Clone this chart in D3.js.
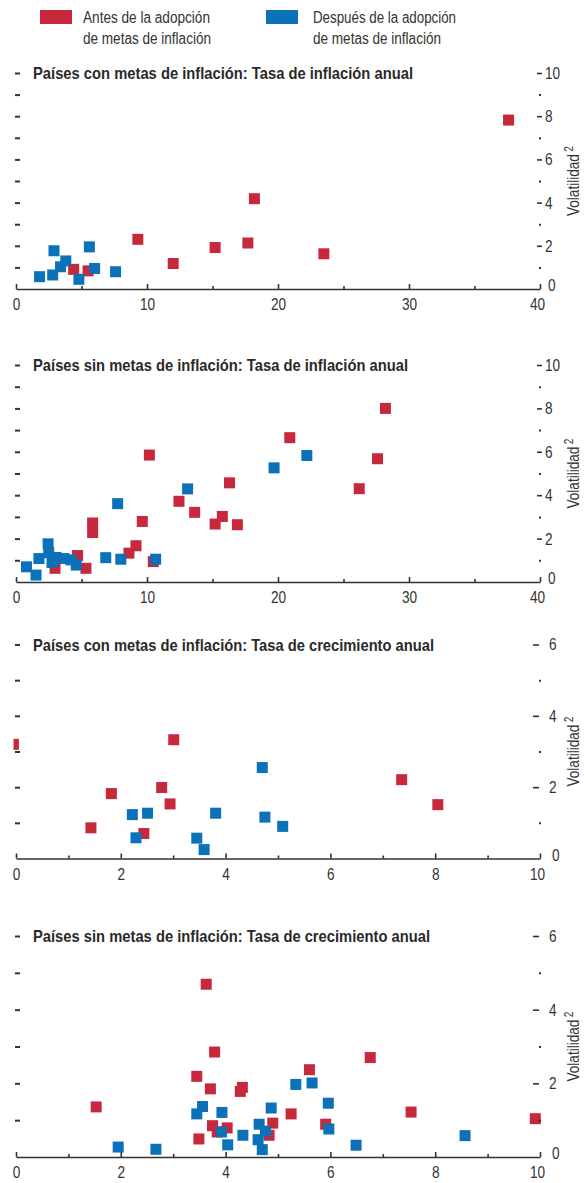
<!DOCTYPE html>
<html><head><meta charset="utf-8">
<script src="https://cdn.jsdelivr.net/npm/d3@7"></script>
<style>body{margin:0;background:#fff}svg{display:block}</style>
</head><body>
<script>
// ---------- data ----------
const legendLines = [["Antes de la adopción","de metas de inflación"],["Después de la adopción","de metas de inflación"]];
const seriesColors = ["#C8283B","#0B72BA"];
const panelTitles = [
  "Países con metas de inflación: Tasa de inflación anual",
  "Países sin metas de inflación: Tasa de inflación anual",
  "Países con metas de inflación: Tasa de crecimiento anual",
  "Países sin metas de inflación: Tasa de crecimiento anual"
];
const yAxisLabel = "Volatilidad";
const yAxisSup = "2";

// Panel 1: con metas, inflación
const p1RedX  = [4.4, 5.5, 9.3, 12.0, 15.2, 17.7, 18.2, 23.5, 37.6];
const p1RedY  = [0.91, 0.84, 2.3, 1.18, 1.92, 2.13, 4.18, 1.63, 7.82];
const p1BlueX = [1.8, 2.9, 2.8, 3.4, 3.8, 4.8, 5.6, 6.0, 7.6];
const p1BlueY = [0.57, 1.77, 0.65, 1.03, 1.3, 0.45, 1.95, 0.95, 0.8];

// Panel 2: sin metas, inflación
const p2RedX  = [2.98, 4.7, 5.34, 5.85, 5.85, 8.62, 9.16, 9.64, 10.18, 10.48, 12.44, 13.64, 15.2, 15.75, 16.3, 16.9, 20.9, 26.2, 27.6, 28.2];
const p2RedY  = [0.63, 1.22, 0.63, 2.72, 2.28, 1.33, 1.67, 2.79, 5.85, 0.94, 3.72, 3.21, 2.67, 3.02, 4.57, 2.64, 6.65, 4.3, 5.68, 8.0];
const p2BlueX = [0.8, 1.53, 1.75, 2.45, 2.5, 2.75, 3.05, 3.65, 4.2, 4.6, 6.85, 8.0, 7.76, 10.66, 13.1, 19.7, 22.2];
const p2BlueY = [0.7, 0.32, 1.08, 1.76, 1.35, 0.9, 1.13, 1.08, 1.02, 0.78, 1.12, 1.05, 3.61, 1.05, 4.29, 5.26, 5.83];

// Panel 3: con metas, crecimiento
const p3RedX  = [-0.05, 1.43, 1.82, 2.44, 2.78, 2.94, 3.01, 7.36, 8.05];
const p3RedY  = [3.2, 0.86, 1.82, 0.70, 1.99, 1.53, 3.33, 2.21, 1.51];
const p3BlueX = [2.22, 2.29, 2.51, 3.45, 3.59, 3.81, 4.70, 4.75, 5.09];
const p3BlueY = [1.23, 0.58, 1.27, 0.57, 0.25, 1.27, 2.55, 1.16, 0.90];

// Panel 4: sin metas, crecimiento
const p4RedX  = [1.53, 3.63, 3.79, 3.45, 3.71, 4.28, 4.32, 3.49, 3.75, 3.84, 4.03, 4.83, 4.90, 5.25, 5.60, 5.91, 6.76, 7.54, 9.91];
const p4RedY  = [1.36, 4.69, 2.85, 2.19, 1.85, 1.78, 1.89, 0.49, 0.85, 0.68, 0.79, 0.59, 0.92, 1.17, 2.37, 0.89, 2.70, 1.22, 1.04];
const p4BlueX = [1.95, 2.67, 3.45, 3.56, 3.93, 3.92, 4.04, 4.33, 4.64, 4.62, 4.76, 4.70, 4.87, 5.34, 5.65, 5.96, 5.97, 6.49, 8.57];
const p4BlueY = [0.27, 0.21, 1.17, 1.37, 1.21, 0.68, 0.33, 0.59, 0.89, 0.47, 0.70, 0.20, 1.33, 1.97, 2.01, 1.46, 0.76, 0.32, 0.58];

// tick values
const infXMajor = [0, 10, 20, 30, 40];
const infXMinor = [5, 15, 25, 35];
const infYMajor = [0, 2, 4, 6, 8, 10];
const infYMinor = [1, 3, 5, 7, 9];
const infYLeft  = [1, 2, 3, 4, 5, 6, 7, 8, 9, 10];
const groXMajor = [0, 2, 4, 6, 8, 10];
const groXMinor = [1, 3, 5, 7, 9];
const groYMajor = [0, 2, 4, 6];
const groYMinor = [1, 3, 5];
const groYLeft  = [1, 2, 3, 4, 5, 6];

// ---------- layout ----------
const W = 584, H = 1183;
const FONT = "'Liberation Sans Narrow','Liberation Sans',Arial,sans-serif";
const INK = "#333";

const panels = [
  {title: panelTitles[0], titleLen: 380, xDom:[0,40], yDom:[0,10], yRange:[289,73],
   red:[p1RedX,p1RedY], blue:[p1BlueX,p1BlueY], xMaj:infXMajor, xMin:infXMinor, yMaj:infYMajor, yMin:infYMinor, yLeft:infYLeft,
   rTick:537, rLen:5, rPad:3},
  {title: panelTitles[1], titleLen: 375, xDom:[0,40], yDom:[0,10], yRange:[582,365],
   red:[p2RedX,p2RedY], blue:[p2BlueX,p2BlueY], xMaj:infXMajor, xMin:infXMinor, yMaj:infYMajor, yMin:infYMinor, yLeft:infYLeft,
   rTick:537, rLen:5, rPad:3},
  {title: panelTitles[2], titleLen: 401, xDom:[0,10], yDom:[0,6], yRange:[858.5,644.5],
   red:[p3RedX,p3RedY], blue:[p3BlueX,p3BlueY], xMaj:groXMajor, xMin:groXMinor, yMaj:groYMajor, yMin:groYMinor, yLeft:groYLeft,
   rTick:533, rLen:6, rPad:10},
  {title: panelTitles[3], titleLen: 397, xDom:[0,10], yDom:[0,6], yRange:[1157,936],
   red:[p4RedX,p4RedY], blue:[p4BlueX,p4BlueY], xMaj:groXMajor, xMin:groXMinor, yMaj:groYMajor, yMin:groYMinor, yLeft:groYLeft,
   rTick:533, rLen:6, rPad:10}
];

const svg = d3.select("body").append("svg").attr("width", W).attr("height", H)
  .attr("font-family", FONT);

function condense(sel, f) {
  sel.each(function () {
    const w = this.getComputedTextLength();
    d3.select(this).attr("textLength", w * f).attr("lengthAdjust", "spacingAndGlyphs");
  });
}

// ---------- legend ----------
const legendX = [40, 266];
const legendTextX = [83, 313];
const legendLens = [[127, 128], [143, 128]];
legendLines.forEach((lines, i) => {
  svg.append("rect").attr("x", legendX[i]).attr("y", 10).attr("width", 32).attr("height", 14)
    .attr("fill", seriesColors[i]);
  lines.forEach((t, j) => {
    svg.append("text").attr("x", legendTextX[i]).attr("y", 23 + j * 21)
      .attr("font-size", 16).attr("fill", INK).text(t)
      .attr("textLength", legendLens[i][j]).attr("lengthAdjust", "spacingAndGlyphs");
  });
});

// ---------- panels ----------
const SQ = 11;
panels.forEach((p, pi) => {
  const x = d3.scaleLinear().domain(p.xDom).range([16, 540]);
  const y = d3.scaleLinear().domain(p.yDom).range(p.yRange);
  const g = svg.append("g");
  const clipId = "clip" + pi;
  svg.append("clipPath").attr("id", clipId).append("rect")
    .attr("x", 13.5).attr("y", y(p.yDom[1]) - 20).attr("width", 540).attr("height", y(0) - y(p.yDom[1]) + 30);

  // title
  g.append("text").attr("x", 33).attr("y", y(p.yDom[1]) + 6)
    .attr("font-size", 16.5).attr("font-weight", "bold").attr("fill", "#2a2a2a")
    .attr("textLength", p.titleLen).attr("lengthAdjust", "spacingAndGlyphs")
    .text(p.title);

  // markers (red first, blue on top)
  const marks = g.append("g").attr("clip-path", `url(#${clipId})`);
  [[p.red, seriesColors[0]], [p.blue, seriesColors[1]]].forEach(([s, c]) => {
    marks.selectAll(null).data(d3.range(s[0].length)).join("rect")
      .attr("x", i => x(s[0][i]) - SQ / 2)
      .attr("y", i => y(s[1][i]) - SQ / 2)
      .attr("width", SQ).attr("height", SQ)
      .attr("fill", c);
  });

  // left ticks (no labels)
  const la = g.append("g").attr("transform", "translate(15,0)")
    .call(d3.axisRight(y).tickValues(p.yLeft).tickSize(5).tickFormat(""));
  la.select(".domain").remove();
  la.selectAll("line").attr("stroke", INK).attr("stroke-width", 2);

  // right axis major
  const ra = g.append("g").attr("transform", `translate(${p.rTick},0)`)
    .call(d3.axisRight(y).tickValues(p.yMaj).tickSize(p.rLen).tickPadding(p.rPad).tickFormat(d3.format("d")));
  ra.select(".domain").remove();
  ra.selectAll("line").attr("stroke", INK).attr("stroke-width", 1.6);
  const zeroTick = ra.selectAll(".tick").filter(d => d === 0);
  zeroTick.select("line").remove();
  zeroTick.select("text").attr("dy", "0.1em").attr("x", p.rLen + p.rPad + 3);
  ra.selectAll("text").attr("font-size", 17).attr("fill", INK).attr("font-family", FONT);
  condense(ra.selectAll("text"), 0.8);
  ra.attr("font-family", null).attr("font-size", null);

  // right axis minor dots
  const rm = g.append("g").attr("transform", "translate(539,0)")
    .call(d3.axisRight(y).tickValues(p.yMin).tickSize(2).tickFormat(""));
  rm.select(".domain").remove();
  rm.selectAll("line").attr("stroke", INK).attr("stroke-width", 2);

  // x axis major
  const xa = g.append("g").attr("transform", `translate(0,${y(0)})`)
    .call(d3.axisBottom(x).tickValues(p.xMaj).tickSizeInner(-5).tickSizeOuter(0).tickPadding(9).tickFormat(d3.format("d")));
  xa.select(".domain").attr("stroke", INK).attr("stroke-width", 1.6);
  xa.selectAll("line").attr("stroke", INK).attr("stroke-width", 1.6);
  xa.selectAll("text").attr("font-size", 17).attr("fill", INK).attr("font-family", FONT);
  xa.selectAll(".tick").filter(d => d === p.xDom[1]).select("text").attr("x", -3);
  condense(xa.selectAll("text"), 0.8);
  xa.attr("font-family", null).attr("font-size", null);

  // x axis minor
  const xm = g.append("g").attr("transform", `translate(0,${y(0)})`)
    .call(d3.axisBottom(x).tickValues(p.xMin).tickSizeInner(-3).tickSizeOuter(0).tickFormat(""));
  xm.select(".domain").remove();
  xm.selectAll("line").attr("stroke", INK).attr("stroke-width", 1.6);

  // y-axis title (rotated)
  const midY = y((p.yDom[0] + p.yDom[1]) / 2);
  const vt = g.append("text").attr("transform", `translate(579,${midY}) rotate(-90)`)
    .attr("text-anchor", "middle").attr("font-size", 16).attr("fill", INK);
  vt.append("tspan").text(yAxisLabel);
  vt.append("tspan").attr("dy", -6).attr("dx", 3).attr("font-size", 12).text(yAxisSup);
  condense(vt, 0.88);
});
</script>
</body></html>
